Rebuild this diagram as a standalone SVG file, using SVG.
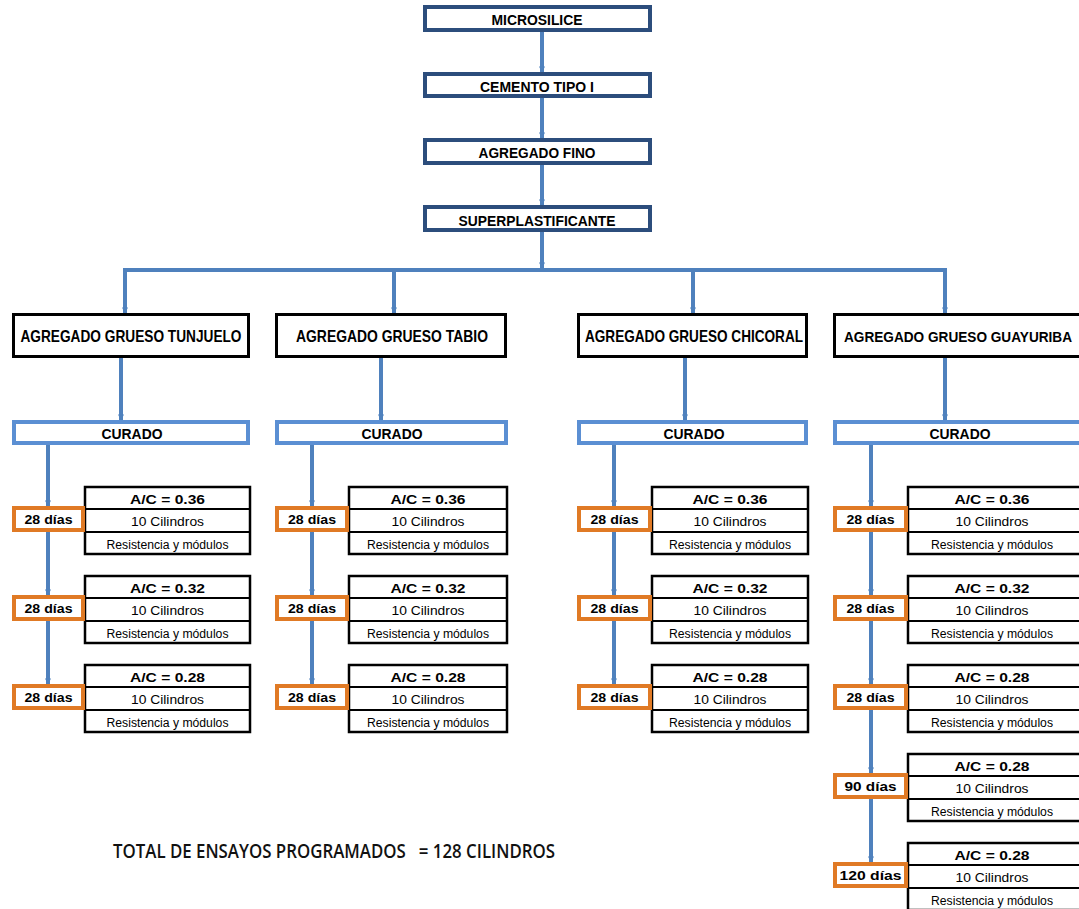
<svg xmlns="http://www.w3.org/2000/svg" width="1079" height="909" viewBox="0 0 1079 909">
<style>
.top{fill:#fff;stroke:#2C4D7C;stroke-width:4}
.hdr{fill:#fff;stroke:#000;stroke-width:3}
.cur{fill:#fff;stroke:#5B8FD3;stroke-width:4}
.tab{fill:#fff;stroke:#000;stroke-width:2.5}
.row{stroke:#000;stroke-width:2}
.org{fill:#fff;stroke:#E07A25;stroke-width:4}
.con{stroke:#4F81BD;stroke-width:4;fill:none}
.arr{stroke:#4F81BD;stroke-width:4;fill:none;marker-end:url(#ah)}
text{font-family:"Liberation Sans",Arial,sans-serif;text-anchor:middle;fill:#000}
.t{font-weight:bold;font-size:14px}
.h{font-weight:bold;font-size:16.5px}
.hg{font-weight:bold;font-size:15.5px}
.c{font-weight:bold;font-size:15px}
.bs{font-weight:bold;font-size:13.5px}
.r{font-size:12.5px}
.tot{font-family:"Open Sans","Liberation Sans",sans-serif;font-size:20px;font-weight:600;fill:#111}
</style>
<defs>
<marker id="ah" viewBox="0 0 10 10" refX="9" refY="5" markerWidth="9" markerHeight="6" markerUnits="userSpaceOnUse" orient="auto">
<path d="M0,0 L10,5 L0,10 z" fill="#4F81BD"/>
</marker>
</defs>

<g id="connectors">
<line class="arr" x1="542" y1="32" x2="542" y2="72"/>
<line class="arr" x1="542" y1="98" x2="542" y2="138"/>
<line class="arr" x1="542" y1="165" x2="542" y2="205"/>
<line class="arr" x1="542" y1="232" x2="542" y2="268"/>
<line class="con" x1="123" y1="270" x2="947" y2="270"/>
<line class="arr" x1="125" y1="270" x2="125" y2="313"/>
<line class="arr" x1="394" y1="270" x2="394" y2="313"/>
<line class="arr" x1="693" y1="270" x2="693" y2="313"/>
<line class="arr" x1="945" y1="270" x2="945" y2="313"/>
<line class="arr" x1="121" y1="358" x2="121" y2="420"/>
<line class="arr" x1="381" y1="358" x2="381" y2="420"/>
<line class="arr" x1="685" y1="358" x2="685" y2="420"/>
<line class="arr" x1="945" y1="358" x2="945" y2="420"/>
<line class="arr" x1="48" y1="445" x2="48" y2="506"/>
<line class="arr" x1="48" y1="532" x2="48" y2="595"/>
<line class="arr" x1="48" y1="621" x2="48" y2="684"/>
<line class="arr" x1="312" y1="445" x2="312" y2="506"/>
<line class="arr" x1="312" y1="532" x2="312" y2="595"/>
<line class="arr" x1="312" y1="621" x2="312" y2="684"/>
<line class="arr" x1="614" y1="445" x2="614" y2="506"/>
<line class="arr" x1="614" y1="532" x2="614" y2="595"/>
<line class="arr" x1="614" y1="621" x2="614" y2="684"/>
<line class="arr" x1="871" y1="445" x2="871" y2="506"/>
<line class="arr" x1="871" y1="532" x2="871" y2="595"/>
<line class="arr" x1="871" y1="621" x2="871" y2="684"/>
<line class="arr" x1="871" y1="710" x2="871" y2="773"/>
<line class="arr" x1="871" y1="799" x2="871" y2="862"/>
</g>

<g id="microsilice"><rect class="top" x="425" y="7" width="225" height="23"/><text class="t" x="537" y="25" textLength="91" lengthAdjust="spacingAndGlyphs">MICROSILICE</text></g>
<g id="cemento"><rect class="top" x="425" y="74" width="225" height="22"/><text class="t" x="537" y="92" textLength="114" lengthAdjust="spacingAndGlyphs">CEMENTO TIPO I</text></g>
<g id="fino"><rect class="top" x="425" y="140" width="225" height="23"/><text class="t" x="537" y="158" textLength="117" lengthAdjust="spacingAndGlyphs">AGREGADO FINO</text></g>
<g id="superplastificante"><rect class="top" x="425" y="207" width="225" height="23"/><text class="t" x="537" y="226" textLength="157" lengthAdjust="spacingAndGlyphs">SUPERPLASTIFICANTE</text></g>

<g id="tunjuelo"><rect class="hdr" x="13.5" y="314.5" width="235" height="42"/><text class="h" x="131" y="342" textLength="221" lengthAdjust="spacingAndGlyphs">AGREGADO GRUESO TUNJUELO</text></g>
<g id="tabio"><rect class="hdr" x="276.5" y="314.5" width="229" height="42"/><text class="h" x="392" y="342" textLength="192" lengthAdjust="spacingAndGlyphs">AGREGADO GRUESO TABIO</text></g>
<g id="chicoral"><rect class="hdr" x="578.5" y="314.5" width="228" height="42"/><text class="h" x="694" y="342" textLength="218" lengthAdjust="spacingAndGlyphs">AGREGADO GRUESO CHICORAL</text></g>
<g id="guayuriba"><rect class="hdr" x="834.5" y="314.5" width="250" height="42"/><text class="hg" x="958" y="342" textLength="228" lengthAdjust="spacingAndGlyphs">AGREGADO GRUESO GUAYURIBA</text></g>

<g id="curado1"><rect class="cur" x="14" y="422" width="234" height="21"/><text class="c" x="132" y="439" textLength="61" lengthAdjust="spacingAndGlyphs">CURADO</text></g>
<g id="curado2"><rect class="cur" x="277" y="422" width="229" height="21"/><text class="c" x="392" y="439" textLength="61" lengthAdjust="spacingAndGlyphs">CURADO</text></g>
<g id="curado3"><rect class="cur" x="579" y="422" width="227" height="21"/><text class="c" x="694" y="439" textLength="61" lengthAdjust="spacingAndGlyphs">CURADO</text></g>
<g id="curado4"><rect class="cur" x="835" y="422" width="250" height="21"/><text class="c" x="960" y="439" textLength="61" lengthAdjust="spacingAndGlyphs">CURADO</text></g>

<!-- Column 1 -->
<g id="c1g1"><rect class="tab" x="85" y="487" width="165" height="67"/><line class="row" x1="85" y1="509" x2="250" y2="509"/><line class="row" x1="85" y1="532" x2="250" y2="532"/><text class="bs" x="167.5" y="504" textLength="75" lengthAdjust="spacingAndGlyphs">A/C = 0.36</text><text class="r" x="167.5" y="526" textLength="73" lengthAdjust="spacingAndGlyphs">10 Cilindros</text><text class="r" x="167.5" y="549" textLength="122" lengthAdjust="spacingAndGlyphs">Resistencia y módulos</text><rect class="org" x="14" y="508" width="69" height="22"/><text class="bs" x="48.5" y="524" textLength="48" lengthAdjust="spacingAndGlyphs">28 días</text></g>
<g id="c1g2"><rect class="tab" x="85" y="576" width="165" height="67"/><line class="row" x1="85" y1="598" x2="250" y2="598"/><line class="row" x1="85" y1="621" x2="250" y2="621"/><text class="bs" x="167.5" y="593" textLength="75" lengthAdjust="spacingAndGlyphs">A/C = 0.32</text><text class="r" x="167.5" y="615" textLength="73" lengthAdjust="spacingAndGlyphs">10 Cilindros</text><text class="r" x="167.5" y="638" textLength="122" lengthAdjust="spacingAndGlyphs">Resistencia y módulos</text><rect class="org" x="14" y="597" width="69" height="22"/><text class="bs" x="48.5" y="613" textLength="48" lengthAdjust="spacingAndGlyphs">28 días</text></g>
<g id="c1g3"><rect class="tab" x="85" y="665" width="165" height="67"/><line class="row" x1="85" y1="687" x2="250" y2="687"/><line class="row" x1="85" y1="710" x2="250" y2="710"/><text class="bs" x="167.5" y="682" textLength="75" lengthAdjust="spacingAndGlyphs">A/C = 0.28</text><text class="r" x="167.5" y="704" textLength="73" lengthAdjust="spacingAndGlyphs">10 Cilindros</text><text class="r" x="167.5" y="727" textLength="122" lengthAdjust="spacingAndGlyphs">Resistencia y módulos</text><rect class="org" x="14" y="686" width="69" height="22"/><text class="bs" x="48.5" y="702" textLength="48" lengthAdjust="spacingAndGlyphs">28 días</text></g>

<!-- Column 2 -->
<g id="c2g1"><rect class="tab" x="349" y="487" width="158" height="67"/><line class="row" x1="349" y1="509" x2="507" y2="509"/><line class="row" x1="349" y1="532" x2="507" y2="532"/><text class="bs" x="428" y="504" textLength="75" lengthAdjust="spacingAndGlyphs">A/C = 0.36</text><text class="r" x="428" y="526" textLength="73" lengthAdjust="spacingAndGlyphs">10 Cilindros</text><text class="r" x="428" y="549" textLength="122" lengthAdjust="spacingAndGlyphs">Resistencia y módulos</text><rect class="org" x="277" y="508" width="70" height="22"/><text class="bs" x="312" y="524" textLength="48" lengthAdjust="spacingAndGlyphs">28 días</text></g>
<g id="c2g2"><rect class="tab" x="349" y="576" width="158" height="67"/><line class="row" x1="349" y1="598" x2="507" y2="598"/><line class="row" x1="349" y1="621" x2="507" y2="621"/><text class="bs" x="428" y="593" textLength="75" lengthAdjust="spacingAndGlyphs">A/C = 0.32</text><text class="r" x="428" y="615" textLength="73" lengthAdjust="spacingAndGlyphs">10 Cilindros</text><text class="r" x="428" y="638" textLength="122" lengthAdjust="spacingAndGlyphs">Resistencia y módulos</text><rect class="org" x="277" y="597" width="70" height="22"/><text class="bs" x="312" y="613" textLength="48" lengthAdjust="spacingAndGlyphs">28 días</text></g>
<g id="c2g3"><rect class="tab" x="349" y="665" width="158" height="67"/><line class="row" x1="349" y1="687" x2="507" y2="687"/><line class="row" x1="349" y1="710" x2="507" y2="710"/><text class="bs" x="428" y="682" textLength="75" lengthAdjust="spacingAndGlyphs">A/C = 0.28</text><text class="r" x="428" y="704" textLength="73" lengthAdjust="spacingAndGlyphs">10 Cilindros</text><text class="r" x="428" y="727" textLength="122" lengthAdjust="spacingAndGlyphs">Resistencia y módulos</text><rect class="org" x="277" y="686" width="70" height="22"/><text class="bs" x="312" y="702" textLength="48" lengthAdjust="spacingAndGlyphs">28 días</text></g>

<!-- Column 3 -->
<g id="c3g1"><rect class="tab" x="652" y="487" width="156" height="67"/><line class="row" x1="652" y1="509" x2="808" y2="509"/><line class="row" x1="652" y1="532" x2="808" y2="532"/><text class="bs" x="730" y="504" textLength="75" lengthAdjust="spacingAndGlyphs">A/C = 0.36</text><text class="r" x="730" y="526" textLength="73" lengthAdjust="spacingAndGlyphs">10 Cilindros</text><text class="r" x="730" y="549" textLength="122" lengthAdjust="spacingAndGlyphs">Resistencia y módulos</text><rect class="org" x="579" y="508" width="71" height="22"/><text class="bs" x="614.5" y="524" textLength="48" lengthAdjust="spacingAndGlyphs">28 días</text></g>
<g id="c3g2"><rect class="tab" x="652" y="576" width="156" height="67"/><line class="row" x1="652" y1="598" x2="808" y2="598"/><line class="row" x1="652" y1="621" x2="808" y2="621"/><text class="bs" x="730" y="593" textLength="75" lengthAdjust="spacingAndGlyphs">A/C = 0.32</text><text class="r" x="730" y="615" textLength="73" lengthAdjust="spacingAndGlyphs">10 Cilindros</text><text class="r" x="730" y="638" textLength="122" lengthAdjust="spacingAndGlyphs">Resistencia y módulos</text><rect class="org" x="579" y="597" width="71" height="22"/><text class="bs" x="614.5" y="613" textLength="48" lengthAdjust="spacingAndGlyphs">28 días</text></g>
<g id="c3g3"><rect class="tab" x="652" y="665" width="156" height="67"/><line class="row" x1="652" y1="687" x2="808" y2="687"/><line class="row" x1="652" y1="710" x2="808" y2="710"/><text class="bs" x="730" y="682" textLength="75" lengthAdjust="spacingAndGlyphs">A/C = 0.28</text><text class="r" x="730" y="704" textLength="73" lengthAdjust="spacingAndGlyphs">10 Cilindros</text><text class="r" x="730" y="727" textLength="122" lengthAdjust="spacingAndGlyphs">Resistencia y módulos</text><rect class="org" x="579" y="686" width="71" height="22"/><text class="bs" x="614.5" y="702" textLength="48" lengthAdjust="spacingAndGlyphs">28 días</text></g>

<!-- Column 4 -->
<g id="c4g1"><rect class="tab" x="908" y="487" width="180" height="67"/><line class="row" x1="908" y1="509" x2="1088" y2="509"/><line class="row" x1="908" y1="532" x2="1088" y2="532"/><text class="bs" x="992" y="504" textLength="75" lengthAdjust="spacingAndGlyphs">A/C = 0.36</text><text class="r" x="992" y="526" textLength="73" lengthAdjust="spacingAndGlyphs">10 Cilindros</text><text class="r" x="992" y="549" textLength="122" lengthAdjust="spacingAndGlyphs">Resistencia y módulos</text><rect class="org" x="835" y="508" width="71" height="22"/><text class="bs" x="870.5" y="524" textLength="48" lengthAdjust="spacingAndGlyphs">28 días</text></g>
<g id="c4g2"><rect class="tab" x="908" y="576" width="180" height="67"/><line class="row" x1="908" y1="598" x2="1088" y2="598"/><line class="row" x1="908" y1="621" x2="1088" y2="621"/><text class="bs" x="992" y="593" textLength="75" lengthAdjust="spacingAndGlyphs">A/C = 0.32</text><text class="r" x="992" y="615" textLength="73" lengthAdjust="spacingAndGlyphs">10 Cilindros</text><text class="r" x="992" y="638" textLength="122" lengthAdjust="spacingAndGlyphs">Resistencia y módulos</text><rect class="org" x="835" y="597" width="71" height="22"/><text class="bs" x="870.5" y="613" textLength="48" lengthAdjust="spacingAndGlyphs">28 días</text></g>
<g id="c4g3"><rect class="tab" x="908" y="665" width="180" height="67"/><line class="row" x1="908" y1="687" x2="1088" y2="687"/><line class="row" x1="908" y1="710" x2="1088" y2="710"/><text class="bs" x="992" y="682" textLength="75" lengthAdjust="spacingAndGlyphs">A/C = 0.28</text><text class="r" x="992" y="704" textLength="73" lengthAdjust="spacingAndGlyphs">10 Cilindros</text><text class="r" x="992" y="727" textLength="122" lengthAdjust="spacingAndGlyphs">Resistencia y módulos</text><rect class="org" x="835" y="686" width="71" height="22"/><text class="bs" x="870.5" y="702" textLength="48" lengthAdjust="spacingAndGlyphs">28 días</text></g>
<g id="c4g4"><rect class="tab" x="908" y="754" width="180" height="67"/><line class="row" x1="908" y1="776" x2="1088" y2="776"/><line class="row" x1="908" y1="799" x2="1088" y2="799"/><text class="bs" x="992" y="771" textLength="75" lengthAdjust="spacingAndGlyphs">A/C = 0.28</text><text class="r" x="992" y="793" textLength="73" lengthAdjust="spacingAndGlyphs">10 Cilindros</text><text class="r" x="992" y="816" textLength="122" lengthAdjust="spacingAndGlyphs">Resistencia y módulos</text><rect class="org" x="835" y="775" width="71" height="22"/><text class="bs" x="870.5" y="791" textLength="52" lengthAdjust="spacingAndGlyphs">90 días</text></g>
<g id="c4g5"><rect class="tab" x="908" y="843" width="180" height="67"/><line class="row" x1="908" y1="865" x2="1088" y2="865"/><line class="row" x1="908" y1="888" x2="1088" y2="888"/><text class="bs" x="992" y="860" textLength="75" lengthAdjust="spacingAndGlyphs">A/C = 0.28</text><text class="r" x="992" y="882" textLength="73" lengthAdjust="spacingAndGlyphs">10 Cilindros</text><text class="r" x="992" y="905" textLength="122" lengthAdjust="spacingAndGlyphs">Resistencia y módulos</text><rect class="org" x="835" y="864" width="71" height="22"/><text class="bs" x="870.5" y="880" textLength="62" lengthAdjust="spacingAndGlyphs">120 días</text></g>

<g id="total"><text class="tot" x="334" y="858" textLength="442" lengthAdjust="spacingAndGlyphs" xml:space="preserve">TOTAL DE ENSAYOS PROGRAMADOS   = 128 CILINDROS</text></g>
</svg>
